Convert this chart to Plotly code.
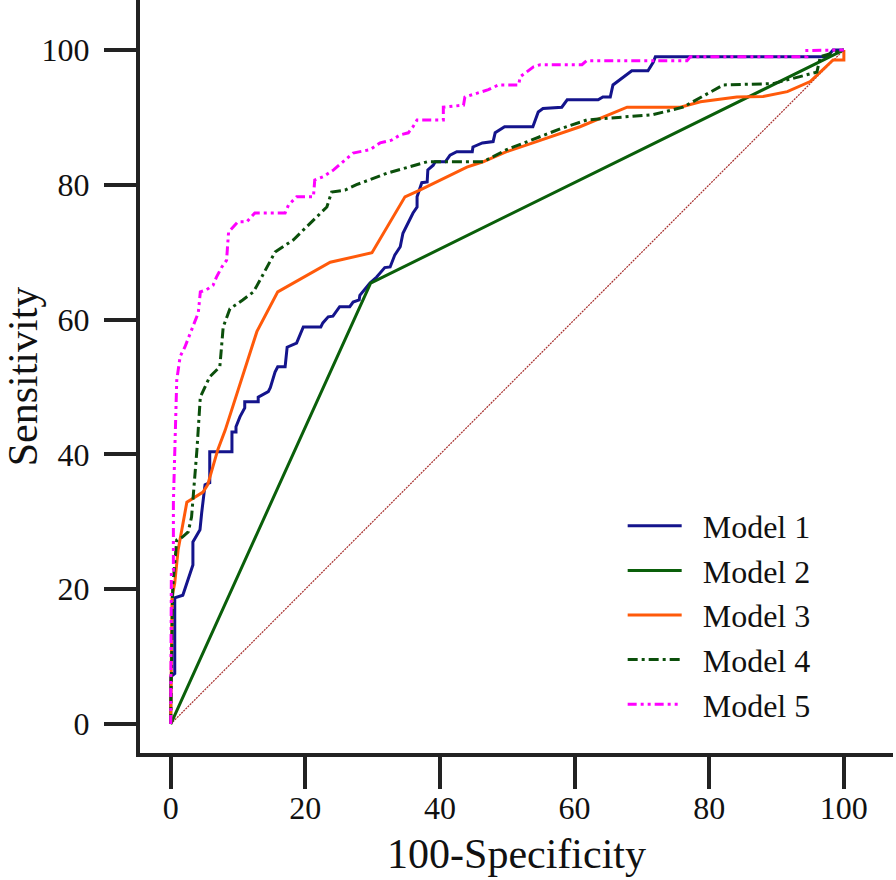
import plotly.graph_objects as go

# ---- data (100-Specificity, Sensitivity) ----
m1_x = [0, 0, 0.6, 0.6, 1.8, 3.3, 3.3, 4.35, 4.6, 5.1, 5.8, 5.8, 9.1, 9.1, 9.7, 9.7, 10.3, 11.0, 11.0,
        13.0, 13.0, 14.5, 14.8, 15.5, 15.9, 17.0, 17.3, 18.7, 19.7, 22.3, 22.6, 23.4, 24.1, 25.1, 26.6,
        27.1, 28.0, 28.1, 29.6, 30.6, 31.8, 32.6, 33.3, 34.1, 34.5, 35.3, 36.0, 36.6, 36.6, 37.3, 38.1,
        38.2, 39.0, 39.3, 40.8, 41.5, 42.5, 44.8, 44.9, 46.3, 47.9, 48.2, 49.6, 53.8, 54.6, 55.3, 58.1,
        58.9, 63.5, 64.2, 65.3, 65.7, 68.5, 70.9, 71.7, 72.0, 97.5, 98.4, 100]
m1_y = [0, 7.0, 7.5, 18.7, 19.1, 23.6, 27.0, 28.8, 31.3, 35.5, 35.8, 40.4, 40.4, 43.3, 43.3, 44.1, 45.6,
        46.9, 47.8, 47.8, 48.5, 49.3, 49.9, 52.2, 53.0, 53.0, 55.9, 56.5, 58.9, 58.9, 59.5, 60.4, 60.5,
        61.9, 61.9, 62.6, 62.9, 63.6, 65.4, 66.3, 67.7, 67.8, 69.6, 70.8, 72.8, 74.5, 75.8, 76.7, 78.2,
        80.3, 80.4, 82.2, 82.9, 83.4, 83.4, 84.4, 84.9, 84.9, 85.6, 86.2, 86.4, 87.7, 88.6, 88.6, 90.8,
        91.3, 91.5, 92.6, 92.6, 93.0, 93.0, 94.8, 96.9, 96.9, 98.2, 99.0, 99.0, 100, 100]

m2_x = [0, 29.7, 100]
m2_y = [0, 65.4, 100]

m3_x = [0, 0.2, 0.6, 1.1, 2.4, 3.3, 4.8, 5.5, 7.0, 8.1, 12.8, 15.9, 23.7, 29.9, 34.8, 37.0, 44.0, 46.4,
        49.9, 53.8, 60.8, 67.8, 75.7, 78.7, 84.1, 88.0, 91.6, 95.0, 98.4, 100, 100]
m3_y = [0, 18.8, 20.9, 25.8, 32.9, 33.5, 34.4, 35.5, 40.7, 43.6, 58.2, 64.1, 68.5, 69.9, 78.2, 79.2,
        82.6, 83.4, 84.9, 86.2, 88.6, 91.5, 91.5, 92.3, 93.0, 93.1, 93.8, 95.3, 98.5, 98.5, 100]

m4_x = [0, 0.3, 0.9, 1.7, 2.6, 3.1, 3.9, 4.4, 5.8, 7.3, 7.8, 8.8, 10.7, 12.3, 13.3, 15.5, 18.2, 23.2,
        23.9, 25.9, 27.6, 32.1, 38.1, 46.4, 49.9, 57.9, 61.8, 71.7, 76.1, 82.1, 89.5, 96.0, 96.5, 100]
m4_y = [0, 20.3, 27.3, 27.7, 28.5, 30.7, 40.7, 48.5, 51.5, 53.0, 58.9, 61.6, 62.9, 64.1, 65.9, 70.0,
        71.8, 76.7, 78.9, 79.2, 80.0, 81.7, 83.4, 83.4, 85.2, 88.3, 89.6, 90.4, 91.5, 94.8, 95.0, 96.7,
        99.0, 100]

m5_x = [0, 0.1, 0.4, 0.4, 0.9, 1.4, 2.1, 2.9, 3.6, 4.1, 4.4, 5.3, 6.3, 6.8, 7.6, 8.3, 8.6, 10.0, 11.3,
        12.5, 17.0, 17.5, 18.7, 21.2, 21.4, 22.7, 24.2, 26.2, 27.1, 29.6, 31.1, 32.8, 34.1, 35.3, 36.0,
        36.6, 40.5, 40.5, 43.5, 43.7, 46.0, 47.2, 48.7, 51.7, 51.9, 53.9, 54.9, 61.1, 61.8, 76.7, 77.2,
        94.5, 94.5, 100]
m5_y = [0, 22.8, 22.8, 32.9, 51.0, 54.5, 55.9, 58.0, 59.9, 61.0, 64.1, 64.4, 65.1, 66.3, 67.8, 68.8,
        73.0, 74.5, 74.5, 75.8, 75.8, 77.0, 78.2, 78.2, 80.7, 81.2, 82.2, 84.0, 84.7, 85.2, 86.2, 86.6,
        87.4, 87.7, 88.6, 89.6, 89.6, 91.5, 91.8, 93.0, 93.8, 94.1, 94.8, 94.8, 96.0, 97.5, 97.8, 97.8,
        98.4, 98.4, 99.0, 99.0, 99.9, 100]

ref_x = [0, 100]
ref_y = [0, 100]

series_names = ["Model 1", "Model 2", "Model 3", "Model 4", "Model 5"]
tick_vals = [0, 20, 40, 60, 80, 100]

FONT = "Liberation Serif, Times New Roman, serif"

fig = go.Figure()

fig.add_trace(go.Scatter(x=ref_x, y=ref_y, mode="lines", showlegend=False, hoverinfo="skip",
                         line=dict(color="#A8302E", width=1.2, dash="2px,1px")))

styles = [
    dict(color="#14148C", width=3, dash="solid"),
    dict(color="#0A5F0A", width=3, dash="solid"),
    dict(color="#FF5A0A", width=3, dash="solid"),
    dict(color="#0B4F0B", width=3, dash="10px,4px,3px,4px"),
    dict(color="#FF00FF", width=3, dash="9px,4px,3px,4px,3px,4px"),
]
xs = [m1_x, m2_x, m3_x, m4_x, m5_x]
ys = [m1_y, m2_y, m3_y, m4_y, m5_y]
for i, name in enumerate(series_names):
    fig.add_trace(go.Scatter(x=xs[i], y=ys[i], mode="lines", name="\u00a0\u00a0" + name,
                             line=styles[i]))

axis_common = dict(
    showline=True, linewidth=4, linecolor="#222222", mirror=False,
    ticks="outside", ticklen=32, tickwidth=4, tickcolor="#222222",
    showgrid=False, zeroline=False,
    tickvals=tick_vals,
    tickfont=dict(family=FONT, size=32, color="#111111"),
    title_font=dict(family=FONT, size=42, color="#111111"),
)

fig.update_layout(
    width=896, height=880,
    margin=dict(l=140, r=3, t=0, b=127),
    paper_bgcolor="white", plot_bgcolor="white",
    xaxis=dict(range=[-4.56, 107.3], title=dict(text="100-Specificity", standoff=14),
               ticklabelstandoff=-8, **axis_common),
    yaxis=dict(range=[-4.3, 107.4], title=dict(text="Sensitivity", standoff=0),
               ticklabelstandoff=8, **axis_common),
    legend=dict(x=0.641, y=0.338, xanchor="left", yanchor="top",
                font=dict(family=FONT, size=32, color="#111111"),
                bgcolor="rgba(0,0,0,0)", itemwidth=54),
)

fig.write_html("out.html", config={"displayModeBar": False},
               post_script="document.body.style.margin='0';")
